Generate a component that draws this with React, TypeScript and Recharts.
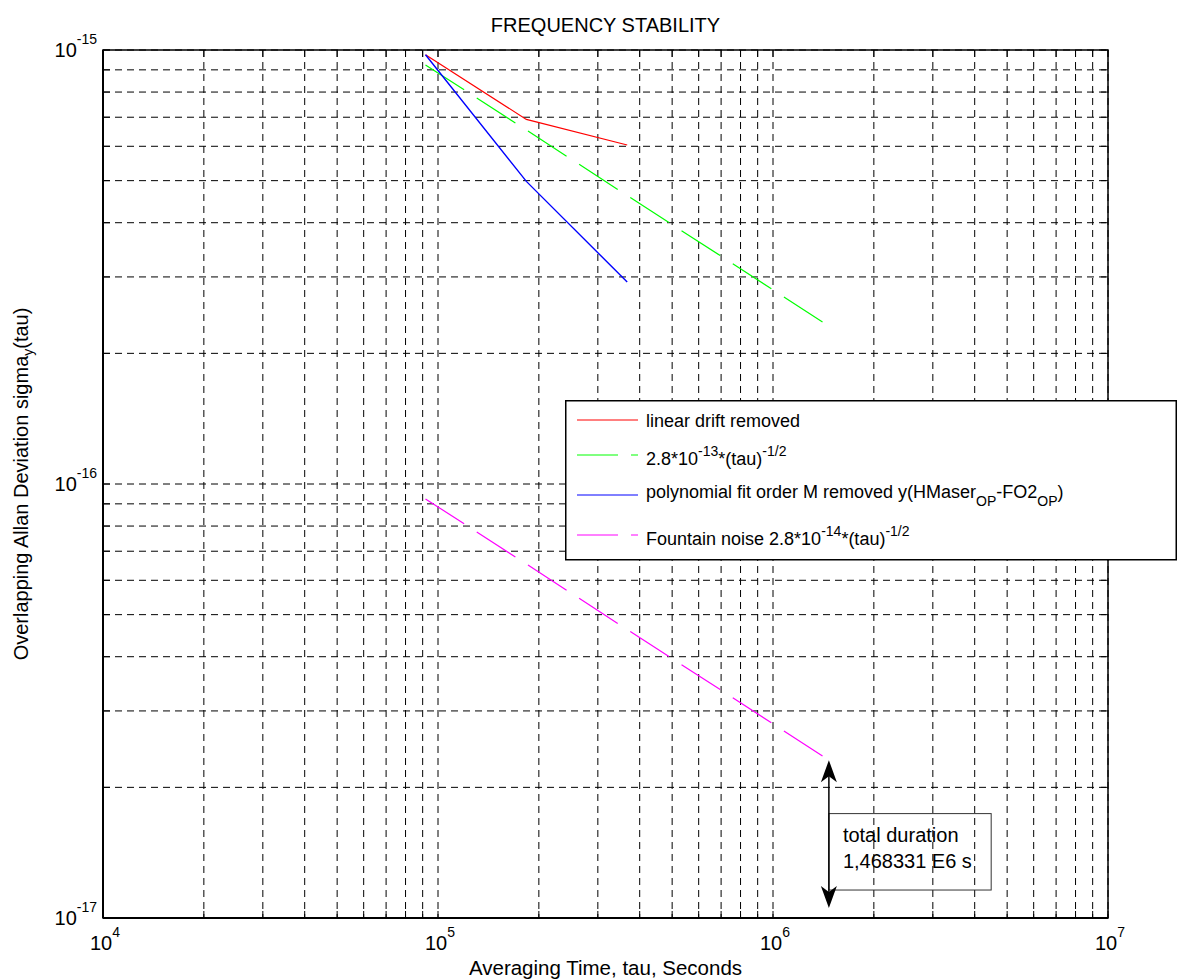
import React from 'react';
import {
    LineChart,
    Line,
    XAxis,
    YAxis,
    CartesianGrid,
    Legend,
    ReferenceArea,
    ReferenceLine,
    Customized,
} from 'recharts';

const FONT = '"Liberation Sans", Arial, Helvetica, sans-serif';

// averaging times (s)
const tauShort = [91771, 183541, 367083];
const tauLong = [91771, 183541, 367083, 734166, 1468331];

// overlapping Allan deviation values
const linearDrift = [9.75e-16, 6.92e-16, 6.04e-16];
const polyFit = [9.75e-16, 4.98e-16, 2.92e-16];
const maserModel = [9.24e-16, 6.54e-16, 4.62e-16, 3.27e-16, 2.31e-16];
const fountainModel = [9.24e-17, 6.54e-17, 4.62e-17, 3.27e-17, 2.31e-17];

// annotation
const totalDuration = 1468331;
const arrowTop = 2.31e-17;
const arrowBottom = 1.054e-17;
const boxRight = 4.48e6;
const boxTop = 1.74e-17;
const boxBottom = 1.16e-17;

// axes
const xTicks = [
    1e4, 2e4, 3e4, 4e4, 5e4, 6e4, 7e4, 8e4, 9e4,
    1e5, 2e5, 3e5, 4e5, 5e5, 6e5, 7e5, 8e5, 9e5,
    1e6, 2e6, 3e6, 4e6, 5e6, 6e6, 7e6, 8e6, 9e6,
    1e7,
];
const xMajor = [1e4, 1e5, 1e6, 1e7];
const xExponents = ['4', '5', '6', '7'];
const yTicks = [
    1e-17, 2e-17, 3e-17, 4e-17, 5e-17, 6e-17, 7e-17, 8e-17, 9e-17,
    1e-16, 2e-16, 3e-16, 4e-16, 5e-16, 6e-16, 7e-16, 8e-16, 9e-16,
    1e-15,
];
const yMajor = [1e-17, 1e-16, 1e-15];
const yExponents = ['-17', '-16', '-15'];

const PLOT_LEFT = 103;
const PLOT_TOP = 50;
const PLOT_RIGHT = 1108;
const PLOT_BOTTOM = 918;
const TICK_LEN = 7;

const toRows = (xs: number[], ys: number[], key: string) =>
    xs.map((tau, i) => ({ tau, [key]: ys[i] }));

const majorIndex = (value: number, majors: number[]) =>
    majors.findIndex((m) => Math.abs(value / m - 1) < 1e-9);

const XTick = (props: any) => {
    const { x, y, payload } = props;
    const idx = majorIndex(payload.value, xMajor);
    return (
        <g>
            <line x1={x} y1={PLOT_BOTTOM} x2={x} y2={PLOT_BOTTOM - TICK_LEN} stroke="#000" />
            <line x1={x} y1={PLOT_TOP} x2={x} y2={PLOT_TOP + TICK_LEN} stroke="#000" />
            {idx >= 0 && (
                <text x={x + 2} y={y + 32} textAnchor="middle" fontFamily={FONT} fontSize={20} fill="#000">
                    10
                    <tspan dy={-13} fontSize={14}>{xExponents[idx]}</tspan>
                </text>
            )}
        </g>
    );
};

const YTick = (props: any) => {
    const { x, y, payload } = props;
    const idx = majorIndex(payload.value, yMajor);
    return (
        <g>
            <line x1={PLOT_LEFT} y1={y} x2={PLOT_LEFT + TICK_LEN} y2={y} stroke="#000" />
            <line x1={PLOT_RIGHT} y1={y} x2={PLOT_RIGHT - TICK_LEN} y2={y} stroke="#000" />
            {idx >= 0 && (
                <text x={x - 6} y={y + 7} textAnchor="end" fontFamily={FONT} fontSize={20} fill="#000">
                    10
                    <tspan dy={-13} fontSize={14}>{yExponents[idx]}</tspan>
                </text>
            )}
        </g>
    );
};

const legendItems = [
    {
        color: '#ff0000',
        dashed: false,
        lineY: 20,
        textY: 27,
        text: <tspan>linear drift removed</tspan>,
    },
    {
        color: '#00ff00',
        dashed: true,
        lineY: 55,
        textY: 65,
        text: (
            <>
                <tspan>2.8*10</tspan>
                <tspan dy={-9} fontSize={14}>-13</tspan>
                <tspan dy={9}>*(tau)</tspan>
                <tspan dy={-9} fontSize={14}>-1/2</tspan>
            </>
        ),
    },
    {
        color: '#0000ff',
        dashed: false,
        lineY: 95,
        textY: 98,
        text: (
            <>
                <tspan>polynomial fit order M removed y(HMaser</tspan>
                <tspan dy={8} fontSize={14}>OP</tspan>
                <tspan dy={-8}>-FO2</tspan>
                <tspan dy={8} fontSize={14}>OP</tspan>
                <tspan dy={-8}>)</tspan>
            </>
        ),
    },
    {
        color: '#ff00ff',
        dashed: true,
        lineY: 135,
        textY: 145,
        text: (
            <>
                <tspan>Fountain noise 2.8*10</tspan>
                <tspan dy={-9} fontSize={14}>-14</tspan>
                <tspan dy={9}>*(tau)</tspan>
                <tspan dy={-9} fontSize={14}>-1/2</tspan>
            </>
        ),
    },
];

const LegendBox = () => (
    <svg width={612} height={161} style={{ display: 'block' }}>
        <rect x={0.75} y={0.75} width={610.5} height={159} fill="#fff" stroke="#000" strokeWidth={1.5} />
        {legendItems.map((item, i) => (
            <g key={i}>
                {item.dashed ? (
                    <>
                        <line x1={12} y1={item.lineY} x2={53} y2={item.lineY} stroke={item.color} />
                        <line x1={66} y1={item.lineY} x2={73} y2={item.lineY} stroke={item.color} />
                    </>
                ) : (
                    <line x1={12} y1={item.lineY} x2={73} y2={item.lineY} stroke={item.color} />
                )}
                <text x={81} y={item.textY} fontFamily={FONT} fontSize={18} fill="#000">
                    {item.text}
                </text>
            </g>
        ))}
    </svg>
);

const DoubleArrow = (props: any) => {
    const { x1, y1, x2, y2 } = props;
    const top = Math.min(y1, y2);
    const bottom = Math.max(y1, y2);
    const x = x1;
    return (
        <g>
            <line x1={x} y1={top + 10} x2={x2} y2={bottom - 10} stroke="#000" strokeWidth={1.5} />
            <polygon points={`${x},${top} ${x - 8},${top + 22} ${x},${top + 16} ${x + 8},${top + 22}`} fill="#000" />
            <polygon
                points={`${x},${bottom} ${x - 8},${bottom - 22} ${x},${bottom - 16} ${x + 8},${bottom - 22}`}
                fill="#000"
            />
        </g>
    );
};

const DurationBox = (props: any) => {
    const { x, y, width, height } = props;
    return (
        <g>
            <rect x={x} y={y} width={width} height={height} fill="none" stroke="#333" strokeWidth={1} />
            <text x={x + 14} y={y + 28} fontFamily={FONT} fontSize={20} fill="#000">
                total duration
            </text>
            <text x={x + 14} y={y + 54} fontFamily={FONT} fontSize={20} fill="#000">
                1,468331 E6 s
            </text>
        </g>
    );
};

const Titles = () => (
    <g fontFamily={FONT} fill="#000">
        <text x={(PLOT_LEFT + PLOT_RIGHT) / 2} y={32} textAnchor="middle" fontSize={20}>
            FREQUENCY STABILITY
        </text>
        <text x={(PLOT_LEFT + PLOT_RIGHT) / 2} y={975} textAnchor="middle" fontSize={20.5}>
            Averaging Time, tau, Seconds
        </text>
        <text
            x={28}
            y={(PLOT_TOP + PLOT_BOTTOM) / 2}
            textAnchor="middle"
            fontSize={20}
            transform={`rotate(-90 28 ${(PLOT_TOP + PLOT_BOTTOM) / 2})`}
        >
            Overlapping Allan Deviation sigma
            <tspan dy={5} fontSize={14}>y</tspan>
            <tspan dy={-5}>(tau)</tspan>
        </text>
    </g>
);

export default function App() {
    return (
        <div style={{ position: 'absolute', left: 0, top: 0, background: '#fff' }}>
            <LineChart
                width={1177}
                height={980}
                margin={{ top: PLOT_TOP, right: 1177 - PLOT_RIGHT, bottom: 0, left: 0 }}
                style={{ fontFamily: FONT }}
            >
                <CartesianGrid stroke="#000" strokeDasharray="7 5" />
                <XAxis
                    dataKey="tau"
                    type="number"
                    scale="log"
                    domain={[1e4, 1e7]}
                    ticks={xTicks}
                    allowDataOverflow
                    interval={0}
                    height={980 - PLOT_BOTTOM}
                    tickSize={0}
                    tickMargin={0}
                    tickLine={false}
                    axisLine={{ stroke: '#000', strokeWidth: 2 }}
                    tick={<XTick />}
                />
                <YAxis
                    type="number"
                    scale="log"
                    domain={[1e-17, 1e-15]}
                    ticks={yTicks}
                    allowDataOverflow
                    interval={0}
                    width={PLOT_LEFT}
                    tickSize={0}
                    tickMargin={0}
                    tickLine={false}
                    axisLine={{ stroke: '#000', strokeWidth: 2 }}
                    tick={<YTick />}
                />
                <ReferenceArea
                    x1={1e4}
                    x2={1e7}
                    y1={1e-17}
                    y2={1e-15}
                    fill="none"
                    fillOpacity={0}
                    stroke="#000"
                    strokeWidth={1.5}
                />
                <Line
                    id="drift"
                    name="linear drift removed"
                    data={toRows(tauShort, linearDrift, 'drift')}
                    dataKey="drift"
                    stroke="#ff0000"
                    strokeWidth={1.2}
                    dot={false}
                    activeDot={false}
                    isAnimationActive={false}
                />
                <Line
                    id="maser"
                    name="maser model"
                    data={toRows(tauLong, maserModel, 'maser')}
                    dataKey="maser"
                    stroke="#00ff00"
                    strokeWidth={1.2}
                    strokeDasharray="46 15"
                    dot={false}
                    activeDot={false}
                    isAnimationActive={false}
                />
                <Line
                    id="poly"
                    name="polynomial fit"
                    data={toRows(tauShort, polyFit, 'poly')}
                    dataKey="poly"
                    stroke="#0000ff"
                    strokeWidth={1.4}
                    dot={false}
                    activeDot={false}
                    isAnimationActive={false}
                />
                <Line
                    id="fountain"
                    name="fountain noise"
                    data={toRows(tauLong, fountainModel, 'fountain')}
                    dataKey="fountain"
                    stroke="#ff00ff"
                    strokeWidth={1.2}
                    strokeDasharray="46 15"
                    dot={false}
                    activeDot={false}
                    isAnimationActive={false}
                />
                <ReferenceLine
                    segment={[
                        { x: totalDuration, y: arrowTop },
                        { x: totalDuration, y: arrowBottom },
                    ]}
                    stroke="#000"
                    shape={<DoubleArrow />}
                />
                <ReferenceArea
                    x1={totalDuration}
                    x2={boxRight}
                    y1={boxBottom}
                    y2={boxTop}
                    fill="none"
                    stroke="#333"
                    shape={<DurationBox />}
                />
                <Customized component={<Titles />} />
                <Legend
                    layout="horizontal"
                    verticalAlign="middle"
                    align="center"
                    content={<LegendBox />}
                    wrapperStyle={{ position: 'absolute', left: 565, top: 400, width: 612, height: 161 }}
                />
            </LineChart>
        </div>
    );
}
